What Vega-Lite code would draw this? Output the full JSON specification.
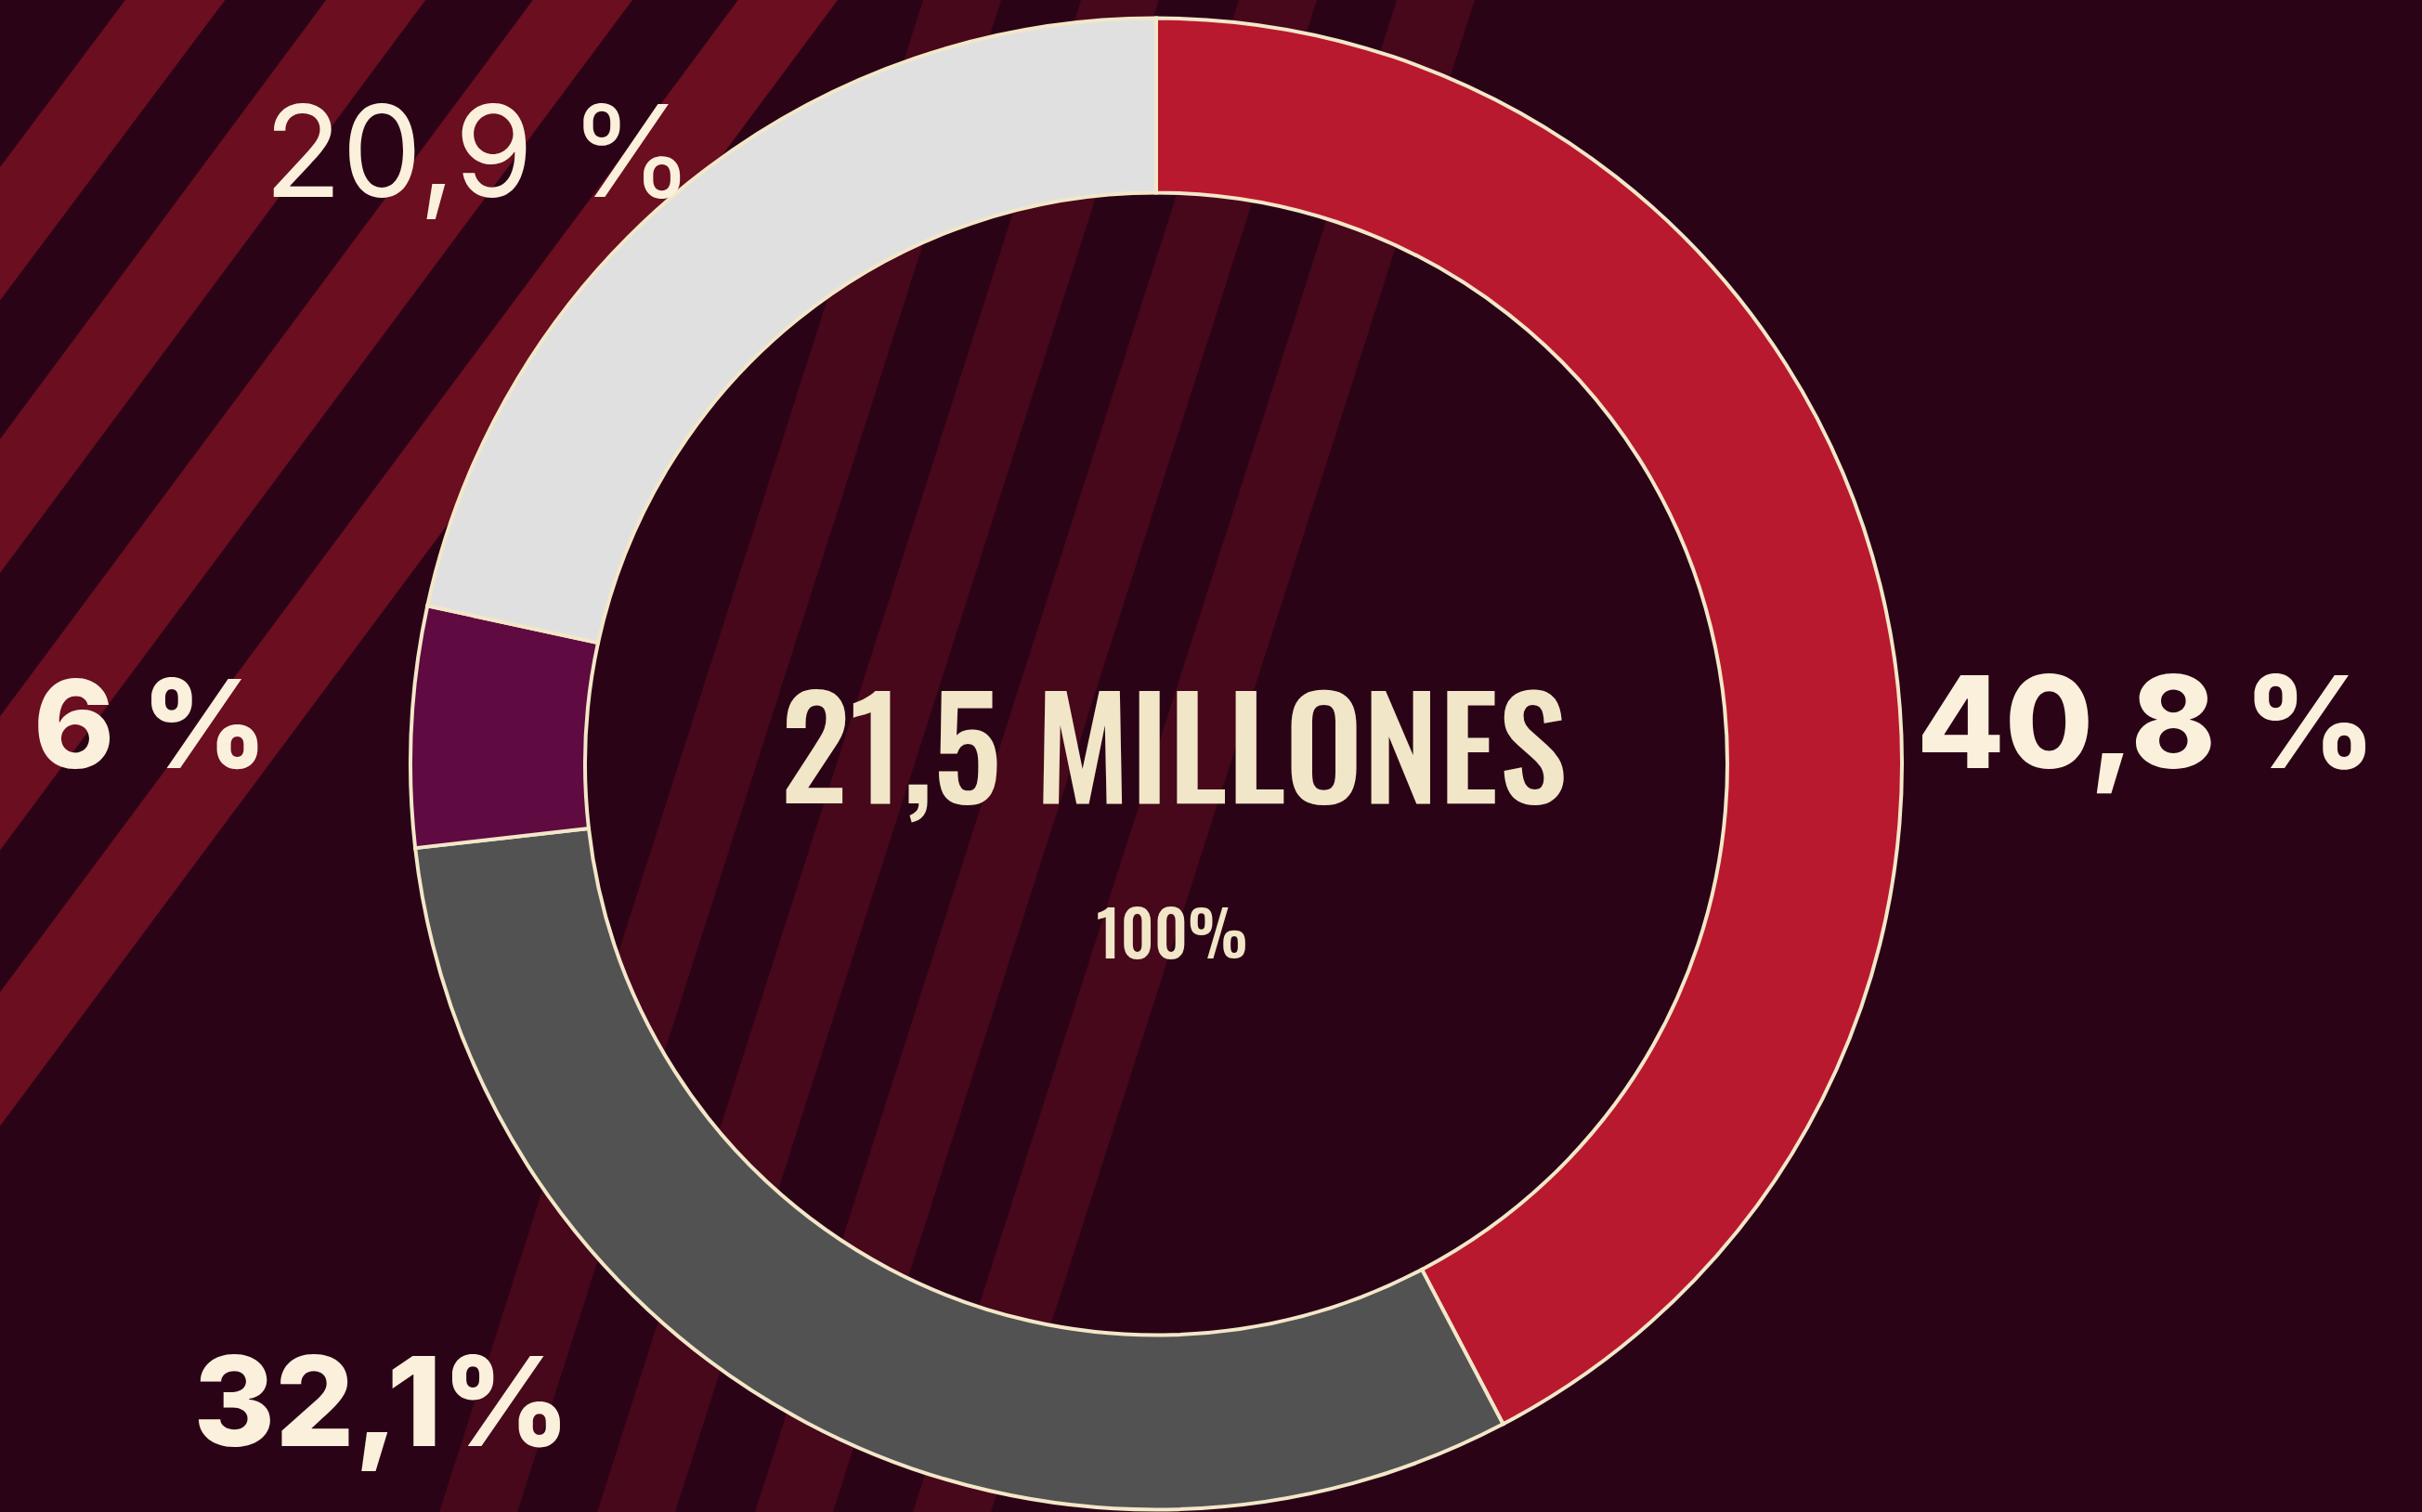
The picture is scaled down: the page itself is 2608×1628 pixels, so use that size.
{
  "$schema": "https://vega.github.io/schema/vega-lite/v6.json",
  "width": 2490,
  "height": 1611,
  "autosize": "none",
  "padding": {"left": 0, "top": 17, "right": 118, "bottom": 0},
  "background": "#2A0416",
  "view": {"stroke": null},
  "datasets": {
    "franjas": [
      {"grupo": "A", "x1": -150, "y1": 435, "x2": 301, "y2": -167},
      {"grupo": "A", "x1": -150, "y1": 730, "x2": 516, "y2": -167},
      {"grupo": "A", "x1": -150, "y1": 1028, "x2": 739, "y2": -167},
      {"grupo": "A", "x1": -150, "y1": 1325, "x2": 960, "y2": -167},
      {"grupo": "B", "x1": 492, "y1": 1683, "x2": 1052, "y2": -67},
      {"grupo": "B", "x1": 662, "y1": 1683, "x2": 1222, "y2": -67},
      {"grupo": "B", "x1": 832, "y1": 1683, "x2": 1392, "y2": -67},
      {"grupo": "B", "x1": 1002, "y1": 1683, "x2": 1562, "y2": -67}
    ],
    "sectores": [
      {"categoria": "rojo", "orden": 1, "valor": 42.3, "etiqueta": "40,8 %"},
      {"categoria": "gris", "orden": 2, "valor": 30.9, "etiqueta": "32,1%"},
      {"categoria": "morado", "orden": 3, "valor": 5.2, "etiqueta": "6 %"},
      {"categoria": "claro", "orden": 4, "valor": 21.6, "etiqueta": "20,9 %"}
    ]
  },
  "layer": [
    {
      "data": {"name": "franjas"},
      "transform": [{"filter": "datum.grupo === 'A'"}],
      "mark": {"type": "rule", "strokeWidth": 86, "color": "#6A0E20", "strokeCap": "butt"},
      "encoding": {
        "x": {"field": "x1", "type": "quantitative", "scale": {"domain": [0, 2490], "nice": false, "zero": false}, "axis": null},
        "y": {"field": "y1", "type": "quantitative", "scale": {"domain": [0, 1611], "reverse": true, "nice": false, "zero": false}, "axis": null},
        "x2": {"field": "x2"},
        "y2": {"field": "y2"}
      }
    },
    {
      "data": {"name": "franjas"},
      "transform": [{"filter": "datum.grupo === 'B'"}],
      "mark": {"type": "rule", "strokeWidth": 80, "color": "#46081A", "strokeCap": "butt"},
      "encoding": {
        "x": {"field": "x1", "type": "quantitative", "axis": null},
        "y": {"field": "y1", "type": "quantitative", "axis": null},
        "x2": {"field": "x2"},
        "y2": {"field": "y2"}
      }
    },
    {
      "data": {"name": "sectores"},
      "mark": {"type": "arc", "innerRadius": 615, "outerRadius": 803, "stroke": "#F3E7C9", "strokeWidth": 4},
      "encoding": {
        "theta": {"field": "valor", "type": "quantitative", "stack": true},
        "order": {"field": "orden", "type": "quantitative"},
        "color": {"field": "categoria", "type": "nominal", "scale": {"domain": ["rojo", "gris", "morado", "claro"], "range": ["#B8192E", "#525252", "#5F0A41", "#E0E0E0"]}, "legend": null}
      }
    },
    {
      "data": {"name": "sectores"},
      "mark": {"type": "text", "radius": 1066, "thetaOffset": 0.246, "font": "Inter", "fontSize": 138, "fontWeight": 800, "color": "#FAF0DC", "align": "center", "baseline": "alphabetic"},
      "encoding": {
        "theta": {"field": "valor", "type": "quantitative", "stack": true},
        "order": {"field": "orden", "type": "quantitative"},
        "detail": {"field": "categoria", "type": "nominal"},
        "text": {"condition": {"test": "datum.categoria === 'rojo'", "field": "etiqueta"}, "value": ""}
      }
    },
    {
      "data": {"name": "sectores"},
      "mark": {"type": "text", "radius": 1111, "thetaOffset": 0.362, "font": "Inter", "fontSize": 134, "fontWeight": 800, "color": "#FAF0DC", "align": "center", "baseline": "alphabetic"},
      "encoding": {
        "theta": {"field": "valor", "type": "quantitative", "stack": true},
        "order": {"field": "orden", "type": "quantitative"},
        "detail": {"field": "categoria", "type": "nominal"},
        "text": {"condition": {"test": "datum.categoria === 'gris'", "field": "etiqueta"}, "value": ""}
      }
    },
    {
      "data": {"name": "sectores"},
      "mark": {"type": "text", "radius": 1083, "thetaOffset": -0.054, "font": "Inter", "fontSize": 132, "fontWeight": 800, "color": "#FAF0DC", "align": "center", "baseline": "alphabetic"},
      "encoding": {
        "theta": {"field": "valor", "type": "quantitative", "stack": true},
        "order": {"field": "orden", "type": "quantitative"},
        "detail": {"field": "categoria", "type": "nominal"},
        "text": {"condition": {"test": "datum.categoria === 'morado'", "field": "etiqueta"}, "value": ""}
      }
    },
    {
      "data": {"name": "sectores"},
      "mark": {"type": "text", "radius": 951, "thetaOffset": -0.195, "font": "Inter", "fontSize": 137, "fontWeight": 400, "color": "#FAF0DC", "align": "center", "baseline": "alphabetic"},
      "encoding": {
        "theta": {"field": "valor", "type": "quantitative", "stack": true},
        "order": {"field": "orden", "type": "quantitative"},
        "detail": {"field": "categoria", "type": "nominal"},
        "text": {"condition": {"test": "datum.categoria === 'claro'", "field": "etiqueta"}, "value": ""}
      }
    },
    {
      "data": {"values": [{"texto": "21,5 MILLONES"}]},
      "mark": {"type": "text", "font": "Oswald, 'DejaVu Sans Condensed', sans-serif", "fontWeight": 500, "fontSize": 150, "color": "#F2E6C8", "align": "center", "baseline": "alphabetic", "dx": 19, "dy": 42},
      "encoding": {"text": {"field": "texto"}}
    },
    {
      "data": {"values": [{"texto": "100%"}]},
      "mark": {"type": "text", "font": "Oswald, 'DejaVu Sans Condensed', sans-serif", "fontWeight": 500, "fontSize": 68, "color": "#F2E6C8", "align": "center", "baseline": "alphabetic", "dx": 17, "dy": 209},
      "encoding": {"text": {"field": "texto"}}
    }
  ]
}
